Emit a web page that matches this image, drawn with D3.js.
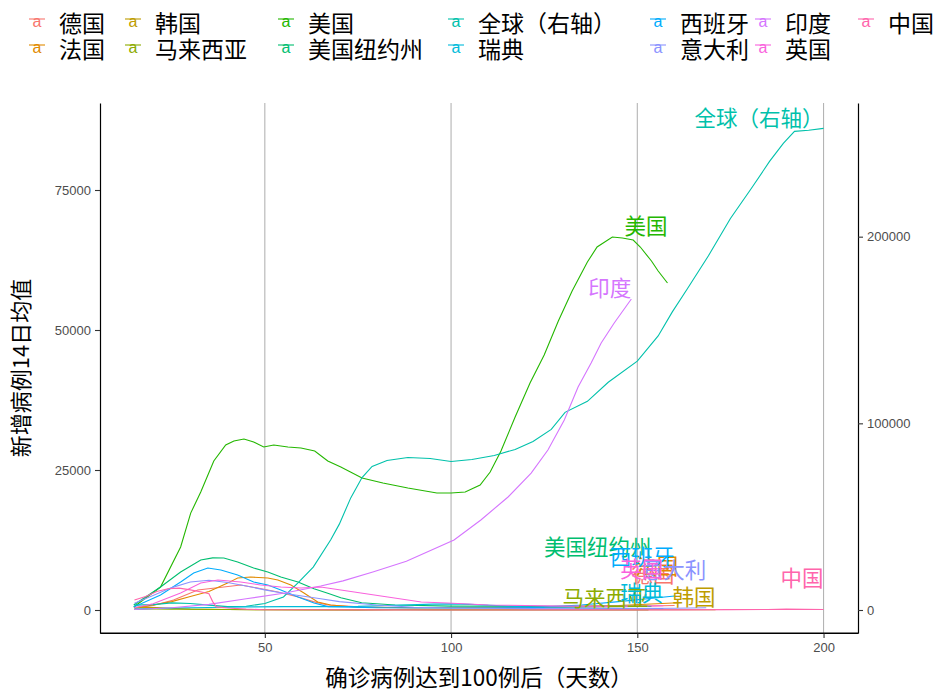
<!DOCTYPE html>
<html><head><meta charset="utf-8">
<script src="https://cdn.jsdelivr.net/npm/d3@7"></script>
<style>body{margin:0;background:#fff}</style>
</head><body><svg id="c" width="947" height="695"></svg>
<script>
// ---------------- data ----------------
const seriesNames = ["德国","法国","韩国","马来西亚","美国","美国纽约州","全球（右轴）","瑞典","西班牙","意大利","印度","英国","中国"];
const seriesColors = ["#F8766D","#E18A00","#BE9C00","#8CAB00","#24B700","#00BE70","#00C1AB","#00BBDA","#00ACFC","#8B93FF","#D575FE","#F962DD","#FF65AC"];
const xTicks = [50,100,150,200];
const yTicks = [0,25000,50000,75000];
const yRightTicks = [0,100000,200000];
const rightAxisFactor = 3; // right axis value = left axis value * 3

// [day after 100 cases, 14-day mean of new cases]
const germany = [[15,300],[20,800],[25.5,1790],[32,3570],[39,4100],[43.5,4460],[48,3930],[53.5,3210],[59,2320],[63,1500],[67,900],[75,550],[90,400],[110,400],[130,500],[145,600],[160,800]];
const france = [[15,400],[20,900],[25,1500],[30,2400],[35,3300],[40,4800],[42.7,5710],[46.2,5890],[50.8,5710],[53.5,5360],[57,4460],[60.5,3040],[64.2,1430],[67.7,900],[75,500],[90,400],[110,500],[130,600],[145,800],[161,1300]];
const korea = [[15,450],[18,500],[21,420],[25,300],[30,150],[35,110],[40,100],[50,60],[60,20],[75,15],[90,40],[105,45],[120,50],[135,45],[150,40],[160,35],[171,35]];
const malaysia = [[15,130],[20,170],[25,160],[30,140],[40,90],[50,50],[60,40],[75,30],[85,50],[95,20],[110,10],[125,10],[140,15],[153,20]];
const usa = [[14.8,536],[22,4100],[27.4,11250],[30.1,17300],[32.8,21070],[36.3,26600],[39.5,29460],[41.7,30180],[44.4,30540],[47,30000],[49.7,29100],[52.4,29460],[56.2,29100],[59.7,28930],[63.4,28400],[66.9,26600],[70.4,25540],[76.1,23570],[81.7,22680],[88.4,21790],[96.2,20900],[100,20900],[103.8,21070],[107.8,22320],[110.5,24640],[113.4,28400],[117.2,34460],[121.2,40540],[125,45540],[128.8,51610],[132.5,56960],[136.6,62140],[139.2,64820],[143.3,66610],[146,66430],[148.9,66070],[150.8,64820],[153.8,62320],[155.6,60540],[158.1,58390]];
const newYork = [[14.8,890],[22,4100],[27.4,6790],[32.8,8930],[36,9300],[39,9290],[42.7,8570],[47,7500],[50.8,6790],[54.3,5890],[58.9,5000],[63.2,3800],[66.9,3000],[70.4,2200],[76,1300],[85,900],[100,700],[120,650],[140,650],[153.8,650]];
const world = [[15,2600],[20,2900],[25,3800],[30,3500],[35,2600],[40,1800],[45,2000],[50,3500],[55,7000],[58.9,14500],[63,23000],[67.7,37600],[70,46000],[73.1,60200],[76.1,70960],[78.8,76880],[82.8,80100],[88.4,81720],[94.4,81180],[100,79570],[105.6,80640],[111.6,82790],[117.2,86020],[122,90320],[126.9,96770],[130.6,105900],[136.6,111800],[142.2,122000],[150,133300],[155.6,146800],[159.4,159700],[163.4,172000],[169.1,189800],[175,209700],[180.6,225800],[185.5,240300],[189.2,250000],[192.2,256400],[196,257000],[200,258000]];
const sweden = [[15,150],[25,350],[35,450],[45,550],[55,600],[65,600],[75,650],[85,850],[95,1050],[100,1100],[105,1000],[115,700],[125,450],[140,300],[157,250]];
const spain = [[14.8,540],[22,2680],[27.4,5000],[30.9,6610],[34.7,7500],[38.2,7140],[42.7,6250],[47,5000],[50.8,4460],[54.3,3570],[58.9,2320],[63.2,1250],[67,600],[80,400],[100,350],[120,400],[135,900],[145,1500],[160,2500]];
const italy = [[15,1200],[20,2600],[25,4000],[30,5000],[35,5300],[40,4900],[45,4300],[50,3600],[55,3000],[60,2500],[65,2000],[70,1500],[80,900],[90,500],[100,350],[120,250],[140,200],[160,300],[168.5,400]];
const india = [[15,100],[25,400],[35,1000],[45,2000],[55,3000],[65,4300],[71,5200],[79,6800],[88,8700],[100.8,12500],[108,16070],[115.3,20180],[121.5,24460],[126,28570],[130.4,33930],[134.1,39820],[137.6,44100],[140.3,47680],[143.8,51250],[148.4,55540]];
const uk = [[15,400],[20,1100],[27.4,3040],[32.8,4820],[37.4,5360],[43.5,5000],[48.9,4460],[54.3,4100],[59.7,3930],[65,4100],[74,3210],[83,2320],[92,1430],[99,1250],[110,900],[130,700],[145,650],[157,750]];
const china = [[15,1800],[18,2400],[21,3300],[24,3800],[27,3900],[30,3600],[33,3200],[35,2900],[36,1500],[37,550],[40,350],[45,150],[50,50],[60,40],[80,15],[100,10],[130,15],[160,20],[175,60],[185,100],[190,150],[195,120],[200,100]];

const seriesData = [germany,france,korea,malaysia,usa,newYork,world,sweden,spain,italy,india,uk,china];
const onRightAxis = [false,false,false,false,false,false,true,false,false,false,false,false,false];

// ---------------- chart ----------------
const svg = d3.select("#c");
const cjk = "'Noto Sans CJK SC','Noto Sans',sans-serif";
const latin = "'Liberation Sans',Arial,sans-serif";
const plot = {l:100, r:858, t:103, b:633};

const x = d3.scaleLinear().domain([5.75, 209.25]).range([plot.l, plot.r]);
const y = d3.scaleLinear().domain([-4107, 90536]).range([plot.b, plot.t]);
const yR = d3.scaleLinear().domain(y.domain().map(v => v*rightAxisFactor)).range([plot.b, plot.t]);

// vertical grid
svg.append("g").selectAll("line").data(xTicks).join("line")
  .attr("x1", d=>x(d)).attr("x2", d=>x(d)).attr("y1", plot.t).attr("y2", plot.b)
  .attr("stroke", "#B4B4B4").attr("stroke-width", 1.1);

// lines
const lineGen = (right) => d3.line().x(d=>x(d[0])).y(d=> right ? yR(d[1]) : y(d[1]));
const series = seriesNames.map((n,i)=>({name:n, color:seriesColors[i], data:seriesData[i], right:onRightAxis[i]}));
svg.append("g").selectAll("path").data(series).join("path")
  .attr("d", s=>lineGen(s.right)(s.data))
  .attr("fill","none").attr("stroke", s=>s.color).attr("stroke-width",1.1);

// labels at (last day, max value), right/bottom aligned
svg.append("g").selectAll("text").data(series).join("text")
  .attr("x", s=>x(s.data[s.data.length-1][0]))
  .attr("y", s=>{ const m = d3.max(s.data, d=>d[1]); return s.right ? yR(m) : y(m); })
  .attr("dy","-0.12em")
  .attr("text-anchor","end")
  .attr("font-family", cjk).attr("font-size", 21.5)
  .attr("fill", s=>s.color).text(s=>s.name);

// axes
const axisStyle = g => {
  g.select(".domain").attr("stroke","#000").attr("stroke-width",1.2);
  g.selectAll(".tick line").attr("stroke","#333").attr("stroke-width",1.1);
  g.selectAll(".tick text").attr("fill","#4D4D4D").attr("font-family",latin).attr("font-size",13);
};
svg.append("g").attr("transform",`translate(0,${plot.b})`)
  .call(d3.axisBottom(x).tickValues(xTicks).tickSize(5).tickSizeOuter(0).tickPadding(5).tickFormat(d3.format("d")))
  .call(axisStyle);
svg.append("g").attr("transform",`translate(${plot.l},0)`)
  .call(d3.axisLeft(y).tickValues(yTicks).tickSize(5).tickSizeOuter(0).tickPadding(4).tickFormat(d3.format("d")))
  .call(axisStyle);
svg.append("g").attr("transform",`translate(${plot.r},0)`)
  .call(d3.axisRight(yR).tickValues(yRightTicks).tickSize(5).tickSizeOuter(0).tickPadding(4).tickFormat(d3.format("d")))
  .call(axisStyle);
svg.append("line").attr("x1",plot.l).attr("x2",plot.r).attr("y1",plot.b).attr("y2",plot.b).attr("stroke","#000").attr("stroke-width",1.2);

// axis titles
svg.append("text").attr("x",(plot.l+plot.r)/2).attr("y",686).attr("text-anchor","middle")
  .attr("font-family",cjk).attr("font-size",22.5).attr("fill","#000").text("确诊病例达到100例后（天数）");
svg.append("text").attr("transform",`translate(29,${(plot.t+plot.b)/2}) rotate(-90)`).attr("text-anchor","middle")
  .attr("font-family",cjk).attr("font-size",22).attr("fill","#000").text("新增病例14日均值");

// legend (2 rows, column-major)
const legendKeyX = [37, 133, 286, 456, 658, 763, 866];
const legendRowY = [22, 48];
const leg = svg.append("g");
series.forEach((s,i)=>{
  const col = Math.floor(i/2), row = i%2;
  const kx = legendKeyX[col], ky = legendRowY[row];
  const g = leg.append("g");
  g.append("line").attr("x1",kx-8).attr("x2",kx+8).attr("y1",ky-3).attr("y2",ky-3).attr("stroke",s.color).attr("stroke-width",1.1);
  g.append("text").attr("x",kx).attr("y",ky+5).attr("text-anchor","middle").attr("font-family",latin)
    .attr("font-size",16).attr("fill",s.color).text("a");
  g.append("text").attr("x",kx+22).attr("y",ky).attr("dominant-baseline","central").attr("font-family",cjk)
    .attr("font-size",23).attr("fill","#000").text(s.name);
});
</script></body></html>
